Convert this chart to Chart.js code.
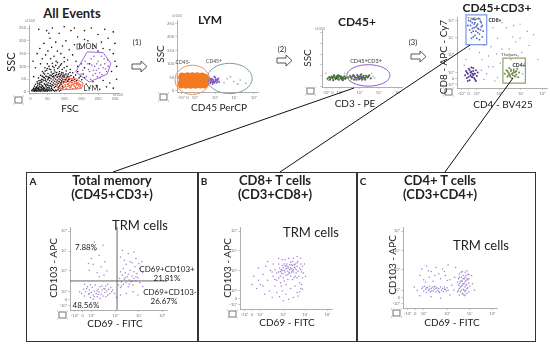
<!DOCTYPE html>
<html><head><meta charset="utf-8">
<script src="https://cdn.jsdelivr.net/npm/chart.js@4/dist/chart.umd.min.js"></script>
<style>
html,body{margin:0;padding:0;background:#fff;}
#root{position:relative;width:550px;height:345px;overflow:hidden;font-family:"Liberation Sans Narrow",Lato,"Open Sans",sans-serif;color:#222;}
.t{position:absolute;white-space:nowrap;transform:translate(-50%,-50%);line-height:1;}
.r{transform:translate(-50%,-50%) rotate(-90deg);}
.box{position:absolute;border:1.6px solid #333;box-sizing:border-box;}
canvas{position:absolute;}
svg{position:absolute;left:0;top:0;}
</style></head>
<body><div id="root"></div>
<script>
// ---------- tick definitions ----------
const sscTicks = [0,50,100,150,200,250];
const sscLabels = ["0","50","100","150","200","250"];
const blankLabels = ["","","","","",""];
const bioTicks = [5,13,22,47,71,95];
const bioLabels = ["-10\u00b2","0","10\u00b2","10\u00b3","10\u2074","10\u2075"];

// ---------- All Events (FSC vs SSC, x1000) ----------
const allBlack = [[4,5],[6,9],[8,4],[9,12],[11,6],[12,3],[13,9],[15,5],[16,11],[18,7],[19,3],[20,13],[22,6],[23,9],[25,4],[26,11],[28,7],[29,3],[31,10],[32,5],[34,8],[35,13],[37,4],[38,9],[40,6],[41,12],[43,3],[44,8],[46,5],[47,11],[49,7],[50,3],[52,9],[54,6],[56,12],[58,4],[60,8],[63,5],[66,10],[69,6],[72,3],[75,8],[78,5],[82,10],[86,4],[90,7],[10,15],[17,16],[24,14],[33,17],[42,15],[51,16],[62,14],
[12,22],[15,30],[18,18],[20,40],[22,26],[24,55],[26,34],[27,20],[29,45],[30,65],[32,28],[33,50],[34,38],[36,80],[37,22],[38,58],[40,44],[41,32],[42,70],[43,95],[44,52],[45,26],[46,62],[47,40],[48,85],[49,30],[50,110],[51,48],[52,72],[53,36],[54,58],[55,25],[56,90],[57,44],[58,66],[59,33],[60,130],[61,52],[62,78],[63,40],[64,28],[65,60],[66,100],[67,47],[68,35],[69,72],[70,55],[71,86],[72,42],[73,30],[74,64],[75,50],[76,120],[77,38],[78,76],[79,58],[80,45],[81,92],[82,33],[83,68],[84,52],[85,40],[86,80],[87,60],[88,48],[89,105],[90,36],[91,70],[92,55],[93,44],[94,88],[95,62],[96,50],[97,74],[98,40],[99,58],[100,95],[102,66],[104,48],[106,82],[108,56],[110,42],[112,70],[114,60],[116,52],[118,88],[120,64],[122,46],[125,75],[128,58],[131,50],[134,66],[137,45],[140,80],[144,55],[148,62],[152,48],[156,70],[160,55],
[14,12],[19,20],[23,16],[27,28],[31,19],[35,24],[39,16],[43,30],[47,20],[51,27],[55,18],[59,24],[63,20],[67,26],[71,18],[75,22],[79,28],[83,18],[87,24],[91,30],[95,20],[21,34],[25,44],[29,36],[33,42],[37,48],[41,56],[45,46],[49,60],[53,52],[57,56],[61,64],[65,70],[69,62],[73,78],[77,68],[81,60],[85,72],[89,64],[93,76],[97,66],[101,58],[105,70],[109,62],[113,48],[117,76],[35,62],[39,74],[44,82],[50,92],[55,100],[60,88],[65,112],[70,96],[75,104],[80,115],[85,98],[92,110],[100,118],[108,100],
[20,150],[28,170],[35,130],[40,190],[45,145],[52,160],[58,210],[63,175],[70,140],[75,195],[80,160],[85,230],[90,150],[95,180],[100,135],[105,200],[110,125],[115,165],[120,240],[125,145],[130,185],[135,120],[140,215],[150,170],[160,240],[170,200],[180,250],[190,180],[200,225],[210,195],[220,245],[230,210],[245,235],[250,190],[25,245],[48,240],[65,250],[100,255],[130,250],[160,205],[30,110],[15,95],[10,60],[8,120],[55,230],
[165,30],[175,15],[185,40],[195,25],[205,10],[215,45],[225,20],[235,35],[245,15],[255,50],[240,80],[250,120],[245,150],[255,100],[175,110],[185,170],[200,160],[235,165],[215,170],[160,95],[150,110],[140,100]];
const allLym = [[84,20],[88,30],[90,15],[93,42],[95,25],[97,35],[99,18],[101,48],[103,28],[105,38],[107,14],[109,44],[111,22],[113,32],[115,50],[117,17],[119,40],[121,27],[123,36],[125,12],[127,46],[129,24],[131,33],[133,20],[135,42],[137,28],[139,16],[141,36],[143,24],[145,31],[147,19],[149,27],[92,36],[100,40],[110,30],[120,20],[130,40],[140,30],[86,40],[96,12],[106,50],[116,26],[126,30],[136,35],[104,22],[114,40],[124,45],[134,15]];
const allMon = [[150,70],[160,95],[165,60],[170,110],[175,80],[180,130],[185,65],[190,100],[195,85],[200,120],[205,75],[210,140],[215,95],[220,110],[225,80],[230,100],[178,50],[188,140],[198,60],[208,105],[218,130],[162,120],[172,88],[182,105],[192,72],[202,92],[212,68],[222,90],[155,85],[228,125],[196,110],[186,85],[206,55]];
const monGate = [[134,79],[168,157],[215,154],[238,112],[227,70],[174,39]];
const lymGate = [[79,46],[87,57],[136,51],[156,35],[151,13],[97,9],[79,17]];

// ---------- LYM (CD45 PerCP vs SSC) ----------
const lymNeg = [[5,20],[5,31],[6,41],[5,50],[6,57],[8,24],[8,35],[9,46],[9,55],[11,19],[11,29],[12,40],[11,51],[13,58],[14,23],[14,34],[15,45],[15,54],[17,19],[17,29],[18,39],[17,50],[19,58],[20,24],[20,34],[21,45],[21,55],[23,19],[23,29],[24,40],[23,51],[25,58],[26,24],[26,35],[27,46],[27,55],[29,20],[29,30],[30,41],[29,52],[31,57],[32,25],[32,36],[33,47],[34,20],[34,31],[34,42],[34,53],[36,26],[36,48]];
const lymPos = [[37,30],[38,42],[39,35],[40,48],[41,28],[42,38],[43,45],[44,32],[45,40],[46,52],[47,35],[48,43],[49,30],[50,38],[51,46],[52,33],[39,50],[44,26],[47,50],[42,33]];
const lymPosBlue = [[38,36],[41,44],[45,34],[48,38],[50,42],[43,40],[46,30],[40,40]];
const lymOther = [[58,30],[62,45],[70,35],[78,40],[85,28],[66,52],[75,25]];
const cd45NegGate = {cx:19, cy:41, rx:21.6, ry:54};
const cd45PosGate = {cx:65, cy:46, rx:27.8, ry:56};

// ---------- CD45+ (CD3 PE vs SSC) ----------
const cd3Neg = [[7,35],[9,42],[10,30],[12,45],[13,38],[14,28],[15,50],[16,40],[17,33],[18,46],[19,36],[20,42],[21,30],[22,48],[23,38],[24,44],[25,32],[26,40],[27,36],[28,46],[29,34],[30,40],[11,38],[18,38],[24,36],[14,42],[20,50],[26,28]];
const cd3PosGreen = [[33,40],[35,48],[37,35],[39,52],[41,42],[43,30],[45,46],[47,38],[49,55],[51,42],[53,34],[55,48],[57,40],[59,50],[61,36],[36,42],[44,40],[50,36],[56,44],[40,30],[48,50],[54,30]];
const cd3PosPurple = [[38,45],[42,38],[46,32],[48,44],[52,48],[54,38],[44,52],[50,30],[58,45],[40,48],[46,42],[52,40],[47,34],[49,40]];
const cd3Other = [[5,60],[28,60],[35,25],[64,44],[66,38],[62,60],[8,26]];
const cd3Gate = {cx:58, cy:50, rx:27, ry:50};

// ---------- CD45+CD3+ (CD4 BV425 vs CD8 APC-Cy7) ----------
const cd8Pos = [[13,95],[15,88],[16,78],[17,92],[18,72],[19,85],[20,96],[21,80],[22,70],[23,90],[24,83],[25,76],[26,94],[27,86],[28,72],[29,80],[14,82],[18,97],[22,88],[25,68],[20,74],[16,70],[24,98],[27,92],[12,88],[19,90],[23,78],[26,82],[15,94],[21,86],[28,88],[17,84],[18,80],[23,84],[20,92]];
const dblNeg = [[9,18],[10,24],[11,14],[12,20],[13,27],[14,11],[15,18],[16,23],[17,15],[18,28],[19,20],[20,12],[21,25],[22,17],[13,16],[15,22],[17,20],[19,14],[12,10],[16,29],[20,20],[14,25],[18,18],[21,10],[11,22],[23,22],[16,16],[18,24]];
const cd4Pos = [[53,20],[55,25],[56,16],[57,22],[58,28],[59,18],[60,24],[61,14],[62,21],[63,26],[64,17],[65,23],[66,19],[67,27],[68,15],[69,22],[58,20],[62,18],[60,26],[64,22],[56,24],[66,24],[61,20],[59,16]];
const cd4PosRed = [[57,18],[63,24],[65,16]];
const cd48Other = [[30,60],[35,45],[40,30],[45,70],[50,55],[55,85],[60,40],[65,65],[70,90],[75,35],[80,60],[85,75],[40,85],[50,92],[62,72],[72,50],[33,20],[28,40],[45,15],[48,35],[68,45],[78,80],[38,58],[58,55],[90,40],[25,50],[30,12],[35,30],[10,40],[14,55],[8,32],[27,25],[42,10],[73,20],[76,12],[44,48],[63,88],[70,70]];
const killerGate = [10,61,33,103];
const helperGate = [51,7,76,42];

// ---------- A: Total memory ----------
const memA = [[12,20],[14,25],[15,17],[16,22],[18,28],[19,19],[20,24],[21,15],[22,21],[23,27],[24,18],[25,23],[26,30],[27,20],[28,16],[29,25],[30,22],[31,28],[32,19],[33,24],[34,17],[35,26],[36,21],[37,29],[38,23],[39,18],[40,25],[41,20],[42,27],[43,22],[44,24],[17,26],[21,30],[25,16],[29,19],[33,29],[37,16],[20,20],[28,23],[36,25],[10,22],[46,20],[24,13],[31,14],[39,31],[15,31],
[50,30],[51,38],[52,27],[53,34],[54,42],[55,31],[56,37],[57,45],[58,33],[59,40],[60,28],[61,36],[62,48],[63,34],[64,41],[65,30],[66,38],[67,52],[68,35],[69,44],[70,39],[71,56],[55,50],[58,55],[62,58],[66,46],[60,43],[64,35],[57,39],[52,46],[68,40],[72,33],[53,29],[61,31],
[20,48],[22,62],[24,55],[26,72],[28,45],[30,66],[32,52],[34,78],[36,58],[38,47],[25,82],[30,40],[35,42],[19,56],
[52,64],[56,60],[60,68],[64,57],[68,62],[72,50],[75,45],[54,72],[66,70],[74,58],[52,18],[58,20],[65,22],[70,18],[75,28],[48,15]];
const quadX = 48.5, quadY = 35;

// ---------- B: CD8+ T cells ----------
const memB = [[42,45],[43,50],[44,40],[45,48],[46,53],[47,43],[48,47],[49,52],[50,41],[51,55],[52,46],[53,50],[54,44],[55,57],[56,49],[57,53],[58,45],[59,51],[60,55],[61,48],[62,52],[63,46],[45,44],[48,55],[50,49],[52,52],[54,48],[56,54],[58,48],[60,50],[53,44],[55,50],[57,47],[51,50],[49,45],[47,50],[59,54],[46,47],[62,56],[54,54],[52,42],[56,45],[50,53],[57,58],[61,44],[44,46],
[36,40],[38,48],[40,35],[42,55],[44,32],[47,38],[49,60],[52,36],[55,40],[58,62],[60,40],[63,58],[65,50],[67,45],[66,55],[64,40],[40,44],[38,36],[46,60],[53,62],[59,38],[68,52],[35,45],[42,38],[48,34],[57,36],[62,38],[66,48],[45,28],[50,30],
[15,40],[18,25],[20,50],[22,30],[25,42],[27,18],[28,52],[30,35],[32,22],[33,47],[35,14],[38,28],[40,20],[43,15],[46,22],[50,18],[55,25],[58,14],[60,28],[62,20],[65,32],[66,25],[68,38],[70,55],[69,44],[67,30],[66,62],[62,64],[30,58],[25,28],[53,12],[47,10],[63,16],[65,21],[68,24],[36,55],[42,62],[20,35],[13,30],[71,40]];

// ---------- C: CD4+ T cells ----------
const memC = [[20,24],[22,21],[23,27],[24,23],[25,19],[26,25],[27,22],[28,27],[29,20],[30,24],[31,26],[32,21],[33,23],[34,27],[35,20],[36,25],[37,22],[38,24],[39,19],[40,26],[41,22],[42,24],[43,20],[44,26],[45,23],[46,21],[47,25],[48,22],[25,25],[30,21],[35,24],[28,23],[33,26],[21,26],[38,20],[44,23],
[58,20],[59,28],[59,36],[60,16],[60,24],[60,42],[61,32],[61,20],[62,38],[62,27],[63,45],[63,18],[63,33],[64,23],[64,40],[65,30],[65,15],[65,36],[66,26],[66,44],[66,20],[67,34],[67,22],[67,40],[68,29],[68,18],[68,46],[69,25],[69,35],[70,31],[70,20],[70,41],[71,27],[62,22],[64,30],[66,38],[68,24],[60,30],[62,44],[64,17],[66,32],[69,42],[61,26],[63,28],[65,22],[67,28],[59,22],[70,36],[62,34],[66,16],[64,36],[68,36],[60,38],[58,32],
[18,40],[20,48],[22,35],[25,52],[28,38],[30,45],[32,33],[35,50],[38,42],[40,36],[42,48],[45,40],[48,53],[50,35],[24,32],[34,40],[44,45],[27,46],[47,34],[52,28],[54,22],[55,38],[15,22],[12,26],[18,15],[30,14],[40,12],[50,16],[74,30],[76,22],[73,40],[56,50]];

// ================= rendering =================
const root = document.getElementById('root');
function txt(s, x, y, css, rot){
  const d = document.createElement('div');
  d.className = 't' + (rot ? ' r' : '');
  d.textContent = s;
  d.style.left = x + 'px'; d.style.top = y + 'px';
  if (css) d.style.cssText += css;
  root.appendChild(d);
  return d;
}
function box(x, y, w, h){
  const d = document.createElement('div');
  d.className = 'box';
  Object.assign(d.style, {left:x+'px', top:y+'px', width:w+'px', height:h+'px'});
  root.appendChild(d);
}
const pts = a => a.map(p => ({x:p[0], y:p[1]}));
const ds = (a, color, r) => ({data: pts(a), backgroundColor: color, borderWidth: 0, pointRadius: r, pointHoverRadius: r});

const gatePlugin = {
  id: 'gates',
  afterDatasetsDraw(chart, args, opts){
    const g = opts.list || [];
    const ctx = chart.ctx, xs = chart.scales.x, ys = chart.scales.y;
    const X = v => xs.getPixelForValue(v), Y = v => ys.getPixelForValue(v);
    ctx.save();
    g.forEach(o => {
      ctx.strokeStyle = o.color; ctx.lineWidth = o.width || 1;
      ctx.beginPath();
      if (o.type === 'poly') {
        o.pts.forEach((p, i) => i ? ctx.lineTo(X(p[0]), Y(p[1])) : ctx.moveTo(X(p[0]), Y(p[1])));
        ctx.closePath();
      } else if (o.type === 'ellipse') {
        const cx = X(o.g.cx), cy = Y(o.g.cy);
        ctx.ellipse(cx, cy, Math.abs(X(o.g.cx + o.g.rx) - cx), Math.abs(Y(o.g.cy + o.g.ry) - cy), 0, 0, Math.PI*2);
      } else if (o.type === 'rect') {
        const r = o.r;
        ctx.rect(X(r[0]), Y(r[3]), X(r[2]) - X(r[0]), Y(r[1]) - Y(r[3]));
      } else if (o.type === 'vline') {
        ctx.moveTo(X(o.v), chart.chartArea.top); ctx.lineTo(X(o.v), chart.chartArea.bottom);
      } else if (o.type === 'hline') {
        ctx.moveTo(chart.chartArea.left, Y(o.v)); ctx.lineTo(chart.chartArea.right, Y(o.v));
      }
      ctx.stroke();
    });
    ctx.restore();
  }
};

function axis(min, max, vals, labels, fit, isX){
  return {
    type: 'linear', min, max,
    afterBuildTicks: s => { s.ticks = vals.map(v => ({value: v})); },
    afterFit: s => { if (isX) s.height = fit; else s.width = fit; },
    ticks: {callback: (v, i) => labels[i], font: {size: 4, family: 'Lato'}, color: '#777', padding: 1, maxRotation: 0, autoSkip: false},
    grid: {display: true, drawOnChartArea: false, tickLength: 2, color: '#aaa', lineWidth: 0.6},
    border: {color: '#9a9a9a', width: 0.8}
  };
}

function plot(c){
  const padL = 14, padB = 8, padT = 4, padR = 4;
  const cv = document.createElement('canvas');
  cv.width = c.w + padL + padR; cv.height = c.h + padT + padB;
  Object.assign(cv.style, {left:(c.x-padL)+'px', top:(c.y-padT)+'px', width:cv.width+'px', height:cv.height+'px'});
  root.appendChild(cv);
  new Chart(cv, {
    type: 'scatter',
    data: {datasets: c.datasets},
    options: {
      responsive: false, animation: false, devicePixelRatio: 1,
      layout: {padding: {top: padT, right: padR, left: 0, bottom: 0}},
      plugins: {legend: {display: false}, tooltip: {enabled: false}, gates: {list: c.gates || []}},
      scales: {
        x: axis(c.xmin, c.xmax, c.xt, c.xl, padB, true),
        y: axis(c.ymin, c.ymax, c.yt, c.yl, padL, false)
      }
    },
    plugins: [gatePlugin]
  });
}

// ---- top row ----
plot({x:29, y:25, w:90, h:68, xmin:-4, xmax:262, ymin:-4, ymax:262, xt:sscTicks, xl:sscLabels, yt:sscTicks, yl:sscLabels,
  datasets:[ds(allBlack,'#111',0.8), ds(allLym,'#f2593a',0.9), ds(allMon,'#8d63c9',0.8)],
  gates:[{type:'poly', pts:monGate, color:'#9a6bd6', width:1}, {type:'poly', pts:lymGate, color:'#f26a55', width:1}]});
plot({x:177, y:20, w:81, h:72, xmin:0, xmax:100, ymin:-4, ymax:262, xt:bioTicks, xl:bioLabels, yt:sscTicks, yl:sscLabels,
  datasets:[ds(lymNeg,'#f47a22',3), ds(lymOther,'#999',0.8), ds(lymPos,'#8a4fc0',1), ds(lymPosBlue,'#3b5bd0',1)],
  gates:[{type:'ellipse', g:cd45NegGate, color:'#f0905a', width:1}, {type:'ellipse', g:cd45PosGate, color:'#7e9e9a', width:1}]});
plot({x:322, y:30, w:80, h:57, xmin:0, xmax:100, ymin:-4, ymax:262, xt:bioTicks, xl:bioLabels, yt:sscTicks, yl:blankLabels,
  datasets:[ds(cd3Other,'#aaa',0.8), ds(cd3Neg,'#3f6d33',1.1), ds(cd3PosGreen,'#4b7a3c',1.1), ds(cd3PosPurple,'#7a35c0',1.1)],
  gates:[{type:'ellipse', g:cd3Gate, color:'#9459d6', width:1}]});
plot({x:457, y:17, w:90, h:71, xmin:0, xmax:100, ymin:0, ymax:100, xt:bioTicks, xl:bioLabels, yt:bioTicks, yl:bioLabels,
  datasets:[ds(cd48Other,'#9a80c8',0.7), ds(cd8Pos,'#4f66cf',0.9), ds(dblNeg,'#4f3a94',1), ds(cd4Pos,'#6f8f4e',1), ds(cd4PosRed,'#d06060',0.9)],
  gates:[{type:'rect', r:killerGate, color:'#7d97ea', width:1.2}, {type:'rect', r:helperGate, color:'#8fa56d', width:1.2}]});

// ---- bottom panels ----
const purple = 'rgba(125,85,195,0.75)';
plot({x:70, y:227, w:97, h:83, xmin:0, xmax:100, ymin:0, ymax:100, xt:bioTicks, xl:bioLabels, yt:bioTicks, yl:bioLabels,
  datasets:[ds(memA, purple, 0.75)],
  gates:[{type:'vline', v:quadX, color:'#555', width:0.9}, {type:'hline', v:quadY, color:'#555', width:0.9}]});
plot({x:240, y:227, w:92, h:82, xmin:0, xmax:100, ymin:0, ymax:100, xt:bioTicks, xl:bioLabels, yt:bioTicks, yl:bioLabels,
  datasets:[ds(memB, purple, 0.75)]});
plot({x:403, y:227, w:94, h:81, xmin:0, xmax:100, ymin:0, ymax:100, xt:bioTicks, xl:bioLabels, yt:bioTicks, yl:bioLabels,
  datasets:[ds(memC, purple, 0.75)]});

// ---- boxes ----
box(26, 172, 173, 170);
box(197, 172, 161, 170);
box(356, 172, 180, 170);

// ---- texts top ----
const B = 'font-weight:700;';
txt('All Events', 72, 13, B+'font-size:13px;');
txt('SSC', 10, 62, 'font-size:11px;', true);
txt('FSC', 70, 108, 'font-size:10px;');
txt('MON', 88, 47, 'font-size:7.5px;color:#333;');
txt('LYM', 91, 89, 'font-size:7.5px;color:#333;');
txt('x1000', 30, 22, 'font-size:3.5px;color:#888;');
txt('x1000', 118, 96, 'font-size:3.5px;color:#888;');

txt('LYM', 210, 20, B+'font-size:12px;');
txt('SSC', 160, 54, 'font-size:10px;', true);
txt('CD45 PerCP', 219, 107, 'font-size:10px;');
txt('CD45-', 183, 62, 'font-size:5px;color:#444;');
txt('CD45+', 214, 61, 'font-size:5px;color:#444;');
txt('(1)', 137, 43, 'font-size:7.5px;');
txt('x1000', 177, 17, 'font-size:3.5px;color:#888;');

txt('CD45+', 357, 22, B+'font-size:12px;');
txt('SSC', 307, 58, 'font-size:10px;', true);
txt('CD3 - PE', 355, 103, 'font-size:10px;');
txt('CD45+CD3+', 366, 62, 'font-size:5.5px;color:#333;');
txt('(2)', 282, 50, 'font-size:7.5px;');
txt('x1000', 320, 30, 'font-size:3.5px;color:#888;');

txt('CD45+CD3+', 497, 8, B+'font-size:12px;');
txt('CD8 - APC - Cy7', 443, 57, 'font-size:10px;', true);
txt('CD4 - BV425', 503, 104, 'font-size:10px;');
txt('T killers', 474, 19, 'font-size:4px;color:#333;');
txt('CD8+', 495, 20, B+'font-size:5px;');
txt('T helpers', 509, 55, 'font-size:4px;color:#333;');
txt('CD4+', 519, 65, B+'font-size:5px;');
txt('(3)', 413, 43, 'font-size:7.5px;');

// ---- texts bottom ----
txt('A', 33, 181, B+'font-size:10px;');
txt('Total memory', 112, 180, B+'font-size:13px;');
txt('(CD45+CD3+)', 112, 194, B+'font-size:13px;');
txt('TRM cells', 140, 225, 'font-size:13px;');
txt('CD103 - APC', 53, 268, 'font-size:10px;', true);
txt('CD69 - FITC', 115, 323, 'font-size:10px;');
txt('7.88%', 86, 247, 'font-size:8px;');
txt('CD69+CD103+', 167, 269, 'font-size:8px;');
txt('21.81%', 167, 278, 'font-size:8px;');
txt('CD69+CD103-', 170, 292, 'font-size:8px;');
txt('26.67%', 164, 301, 'font-size:8px;');
txt('48.56%', 86, 305, 'font-size:8px;');

txt('B', 204, 181, B+'font-size:10px;');
txt('CD8+ T cells', 275, 180, B+'font-size:13px;');
txt('(CD3+CD8+)', 275, 194, B+'font-size:13px;');
txt('TRM cells', 311, 232, 'font-size:13px;');
txt('CD103 - APC', 227, 268, 'font-size:10px;', true);
txt('CD69 - FITC', 287, 322, 'font-size:10px;');

txt('C', 363, 181, B+'font-size:10px;');
txt('CD4+ T cells', 440, 180, B+'font-size:13px;');
txt('(CD3+CD4+)', 440, 194, B+'font-size:13px;');
txt('TRM cells', 481, 245, 'font-size:13px;');
txt('CD103 - APC', 392, 265, 'font-size:10px;', true);
txt('CD69 - FITC', 452, 322, 'font-size:10px;');

// ---- decorations: arrows, icons, connector lines ----
const NS = 'http://www.w3.org/2000/svg';
const svg = document.createElementNS(NS, 'svg');
svg.setAttribute('width', 550); svg.setAttribute('height', 345);
root.appendChild(svg);
function el(tag, attrs){ const e = document.createElementNS(NS, tag); for (const k in attrs) e.setAttribute(k, attrs[k]); svg.appendChild(e); }
function arrow(x, y){
  el('polygon', {points:`${x},${y+2} ${x+9},${y+2} ${x+9},${y-1} ${x+15},${y+4.5} ${x+9},${y+10} ${x+9},${y+7} ${x},${y+7}`, fill:'#fff', stroke:'#444', 'stroke-width':0.9});
}
arrow(132, 62); arrow(277, 56); arrow(411, 52);
function icon(x, y){
  el('rect', {x:x, y:y, width:7, height:6, fill:'none', stroke:'#555', 'stroke-width':0.8});
  el('path', {d:`M${x-2},${y-1}h1M${x+8},${y-1}h1M${x-2},${y+7}h1M${x+8},${y+7}h1`, stroke:'#777', 'stroke-width':0.6});
}
icon(15, 97); icon(160, 94); icon(307, 88); icon(445, 89); icon(59, 312); icon(229, 311); icon(393, 310);
el('rect', {x:77, y:44, width:2.5, height:5, fill:'none', stroke:'#333', 'stroke-width':0.7});
el('line', {x1:354, y1:88, x2:113, y2:172, stroke:'#111', 'stroke-width':1});
el('line', {x1:470, y1:45, x2:280, y2:172, stroke:'#111', 'stroke-width':1});
el('line', {x1:513, y1:78, x2:445, y2:172, stroke:'#111', 'stroke-width':1});
</script>
</body></html>
